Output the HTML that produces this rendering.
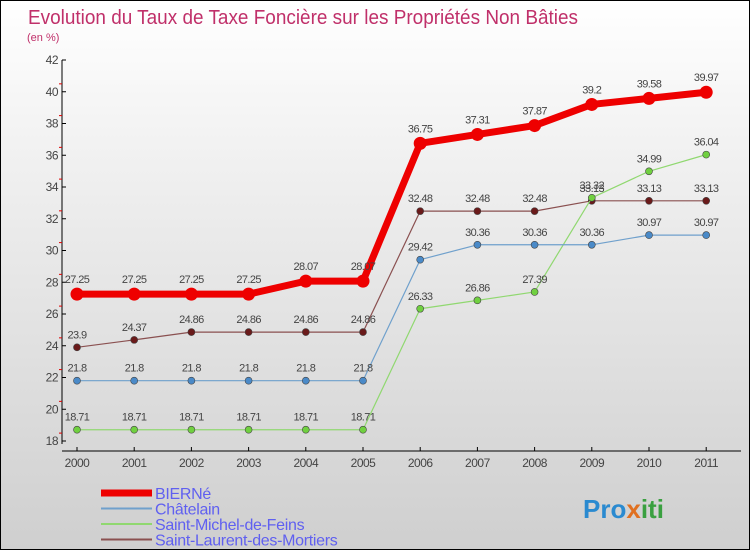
<!DOCTYPE html>
<html><head><meta charset="utf-8">
<style>
body{margin:0;}
#wrap{position:relative;width:748px;height:548px;border:1px solid #000;background:linear-gradient(#ffffff,#f0f0f0 30%,#cfcfcf);overflow:hidden;font-family:"Liberation Sans",sans-serif;}
text{font-family:"Liberation Sans",sans-serif;}
</style></head>
<body>
<div id="wrap">
<svg id="chart" width="748" height="548">
<text x="27" y="23" font-size="20" fill="#c0306a" textLength="550" lengthAdjust="spacingAndGlyphs">Evolution du Taux de Taxe Foncière sur les Propriétés Non Bâties</text>
<text x="26" y="40" font-size="11" fill="#c0306a">(en %)</text>
<g id="axes"></g>
<g id="series"></g>
<g id="legend"></g>
<text x="582" y="517" font-size="26" font-weight="bold" fill="#2a8ad0">Pro<tspan fill="#e07020">x</tspan><tspan fill="#3aa040">iti</tspan></text>
</svg>
</div>
<script>
const years=["2000","2001","2002","2003","2004","2005","2006","2007","2008","2009","2010","2011"];
const yTicks=[18,20,22,24,26,28,30,32,34,36,38,40,42];
const bierne=[27.25,27.25,27.25,27.25,28.07,28.07,36.75,37.31,37.87,39.2,39.58,39.97];
const chatelain=[21.8,21.8,21.8,21.8,21.8,21.8,29.42,30.36,30.36,30.36,30.97,30.97];
const stMichel=[18.71,18.71,18.71,18.71,18.71,18.71,26.33,26.86,27.39,33.32,34.99,36.04];
const stLaurent=[23.9,24.37,24.86,24.86,24.86,24.86,32.48,32.48,32.48,33.13,33.13,33.13];
const seriesNames=["BIERNé","Châtelain","Saint-Michel-de-Feins","Saint-Laurent-des-Mortiers"];
const NS="http://www.w3.org/2000/svg";
const xS=i=>76+i*57.2;
const yS=v=>440-(v-18)*15.875;
function mk(tag,attrs,parent){const e=document.createElementNS(NS,tag);for(const k in attrs)e.setAttribute(k,attrs[k]);parent.appendChild(e);return e;}
const axes=document.getElementById('axes');
let a=mk('line',{x1:61,y1:59,x2:61,y2:443,stroke:'#000'},axes);


a=mk('line',{x1:61,y1:450,x2:740,y2:450,stroke:'#000'},axes);


yTicks.forEach(v=>{
 const y=yS(v);
 mk('line',{x1:61,y1:y,x2:65,y2:y,stroke:'#000'},axes);
 const t=mk('text',{x:57,y:y+4,'text-anchor':'end','font-size':12,fill:'#444','letter-spacing':-0.5},axes);t.textContent=v;
 
 
 if(v<42) mk('line',{x1:58,y1:y-7.9,x2:61,y2:y-7.9,stroke:'#e00000'},axes);
});
years.forEach((yr,i)=>{
 const x=xS(i);
 mk('line',{x1:x,y1:446,x2:x,y2:450,stroke:'#000'},axes);
 const t=mk('text',{x:x,y:466,'text-anchor':'middle','font-size':12,fill:'#444','letter-spacing':-0.5},axes);t.textContent=yr;
 
 
});
const sg=document.getElementById('series');
function draw(vals,color,w,r,fill,name,labelOff){
 const pts=vals.map((v,i)=>xS(i)+','+yS(v)).join(' ');
 const pl=mk('polyline',{points:pts,fill:'none',stroke:color,'stroke-width':w,'stroke-linejoin':'round'},sg);
 
 
 vals.forEach((v,i)=>{
  const c=mk('circle',{cx:xS(i),cy:yS(v),r:r,fill:fill,stroke:'#444','stroke-width':r>4?0:0.6},sg);
  
  
  const t=mk('text',{x:xS(i),y:yS(v)-labelOff,'text-anchor':'middle','font-size':11,fill:'#444','letter-spacing':-0.6},sg);
  t.textContent=v;
  
  
 });
}
draw(stLaurent,'#8a5050',1.2,3.5,'#6a1a1a','saint-laurent',9);
draw(stMichel,'#90d870',1.2,3.5,'#70d040','saint-michel',9);
draw(chatelain,'#6fa0cc',1.2,3.5,'#4a8ac8','chatelain',9);
draw(bierne,'#ee0000',7,6.5,'#ee0000','bierne',11);
const lg=document.getElementById('legend');
const lc=[['#ee0000',7],['#6fa0cc',2],['#90d870',2],['#8a5050',2]];
seriesNames.forEach((n,i)=>{
 const y=492+i*15.5;
 const l=mk('line',{x1:100,y1:y,x2:151,y2:y,stroke:lc[i][0],'stroke-width':lc[i][1]},lg);
 
 
 const t=mk('text',{x:154,y:y+6,'font-size':16,fill:'#6060f0','letter-spacing':-0.3},lg);t.textContent=n;
 
 
});
</script>
</body></html>
